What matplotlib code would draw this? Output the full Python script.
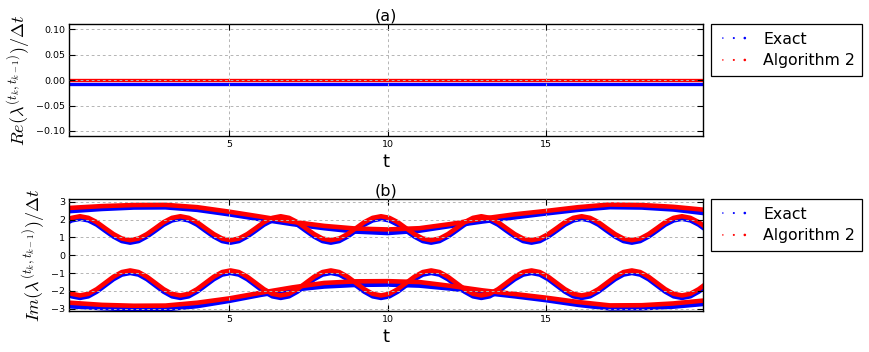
import numpy as np
import matplotlib
matplotlib.use('Agg')
import matplotlib.pyplot as plt
from matplotlib.legend_handler import HandlerPathCollection

# ---------------- data ----------------
# panel (a): real part (constant)
t_flat = [0.0, 20.0]
re_exact = [-0.0075, -0.0075]
re_alg = [0.0, 0.0]

# panel (b): slowly varying branches, sampled every 1 time unit
t_slow = list(range(21))
im_exact_slow_up = [2.48, 2.60, 2.68, 2.69, 2.55, 2.30, 2.02, 1.75, 1.52, 1.33, 1.25,
                    1.38, 1.65, 1.90, 2.13, 2.35, 2.55, 2.70, 2.68, 2.57, 2.36]
im_alg_slow_up = [2.66, 2.76, 2.82, 2.83, 2.70, 2.45, 2.17, 1.88, 1.65, 1.50, 1.45,
                  1.52, 1.76, 2.06, 2.30, 2.49, 2.70, 2.85, 2.82, 2.72, 2.55]
im_exact_slow_lo = [-2.86, -2.97, -3.03, -3.03, -2.85, -2.56, -2.22, -1.93, -1.75, -1.66, -1.64,
                    -1.70, -1.87, -2.10, -2.30, -2.52, -2.78, -2.98, -2.97, -2.88, -2.72]
im_alg_slow_lo = [-2.66, -2.78, -2.83, -2.82, -2.66, -2.42, -2.10, -1.80, -1.55, -1.46, -1.45,
                  -1.50, -1.72, -1.97, -2.17, -2.38, -2.62, -2.81, -2.80, -2.70, -2.53]

# panel (b): oscillating branches, sampled on a fine time grid
t_osc = np.linspace(-0.217, 20.06, 78)
im_exact_osc_up = [
    1.72, 1.96, 2.05, 1.96, 1.72, 1.38, 1.05, 0.80, 0.71, 0.80, 1.05, 1.38,
    1.72, 1.96, 2.05, 1.96, 1.72, 1.38, 1.05, 0.80, 0.71, 0.80, 1.05, 1.38,
    1.72, 1.96, 2.05, 1.96, 1.72, 1.38, 1.05, 0.80, 0.71, 0.80, 1.05, 1.38,
    1.72, 1.96, 2.05, 1.96, 1.72, 1.38, 1.05, 0.80, 0.71, 0.80, 1.05, 1.38,
    1.72, 1.96, 2.05, 1.96, 1.72, 1.38, 1.05, 0.80, 0.71, 0.80, 1.05, 1.38,
    1.72, 1.96, 2.05, 1.96, 1.72, 1.38, 1.05, 0.80, 0.71, 0.80, 1.05, 1.38,
    1.72, 1.96, 2.05, 1.96, 1.72, 1.38]
im_alg_osc_up = [
    1.86, 2.10, 2.19, 2.10, 1.86, 1.52, 1.19, 0.94, 0.85, 0.94, 1.19, 1.52,
    1.86, 2.10, 2.19, 2.10, 1.86, 1.52, 1.19, 0.94, 0.85, 0.94, 1.19, 1.52,
    1.86, 2.10, 2.19, 2.10, 1.86, 1.52, 1.19, 0.94, 0.85, 0.94, 1.19, 1.52,
    1.86, 2.10, 2.19, 2.10, 1.86, 1.52, 1.19, 0.94, 0.85, 0.94, 1.19, 1.52,
    1.86, 2.10, 2.19, 2.10, 1.86, 1.52, 1.19, 0.94, 0.85, 0.94, 1.19, 1.52,
    1.86, 2.10, 2.19, 2.10, 1.86, 1.52, 1.19, 0.94, 0.85, 0.94, 1.19, 1.52,
    1.86, 2.10, 2.19, 2.10, 1.86, 1.52]
im_exact_osc_lo = [
    -2.04, -2.30, -2.39, -2.30, -2.04, -1.69, -1.34, -1.08, -0.99, -1.08, -1.34, -1.69,
    -2.04, -2.30, -2.39, -2.30, -2.04, -1.69, -1.34, -1.08, -0.99, -1.08, -1.34, -1.69,
    -2.04, -2.30, -2.39, -2.30, -2.04, -1.69, -1.34, -1.08, -0.99, -1.08, -1.34, -1.69,
    -2.04, -2.30, -2.39, -2.30, -2.04, -1.69, -1.34, -1.08, -0.99, -1.08, -1.34, -1.69,
    -2.04, -2.30, -2.39, -2.30, -2.04, -1.69, -1.34, -1.08, -0.99, -1.08, -1.34, -1.69,
    -2.04, -2.30, -2.39, -2.30, -2.04, -1.69, -1.34, -1.08, -0.99, -1.08, -1.34, -1.69,
    -2.04, -2.30, -2.39, -2.30, -2.04, -1.69]
im_alg_osc_lo = [
    -1.90, -2.16, -2.25, -2.16, -1.90, -1.55, -1.20, -0.94, -0.85, -0.94, -1.20, -1.55,
    -1.90, -2.16, -2.25, -2.16, -1.90, -1.55, -1.20, -0.94, -0.85, -0.94, -1.20, -1.55,
    -1.90, -2.16, -2.25, -2.16, -1.90, -1.55, -1.20, -0.94, -0.85, -0.94, -1.20, -1.55,
    -1.90, -2.16, -2.25, -2.16, -1.90, -1.55, -1.20, -0.94, -0.85, -0.94, -1.20, -1.55,
    -1.90, -2.16, -2.25, -2.16, -1.90, -1.55, -1.20, -0.94, -0.85, -0.94, -1.20, -1.55,
    -1.90, -2.16, -2.25, -2.16, -1.90, -1.55, -1.20, -0.94, -0.85, -0.94, -1.20, -1.55,
    -1.90, -2.16, -2.25, -2.16, -1.90, -1.55]

xticks = [5, 10, 15]
yticks_a = [-0.10, -0.05, 0.00, 0.05, 0.10]
yticks_b = [-3, -2, -1, 0, 1, 2, 3]
labels = ['Exact', 'Algorithm 2']
titles = ['(a)', '(b)']

# ---------------- style ----------------
plt.rcParams['mathtext.fontset'] = 'cm'
plt.rcParams['lines.scale_dashes'] = False
BLUE = (0, 0, 1)
RED = (1, 0, 0)

fig = plt.figure(figsize=(8.69, 3.52), dpi=100)
ax_a = fig.add_axes([0.0797, 0.6136, 0.7292, 0.3173])
ax_b = fig.add_axes([0.0797, 0.1156, 0.7292, 0.3182])


def style_axes(ax, title):
    ax.set_xlim(-0.03, 19.93)
    ax.set_xticks(xticks)
    ax.grid(True, color='#b4b4b4', linestyle=(0, (2, 2)), linewidth=0.7)
    ax.set_axisbelow(False)
    ax.tick_params(direction='in', top=True, right=True, length=4,
                   width=0.8, labelsize=6.8, pad=3)
    for s in ax.spines.values():
        s.set_linewidth(1.0)
    ax.set_title(title, fontsize=11.5, pad=2.8)
    ax.set_xlabel('t', fontsize=13, labelpad=2.5)


def add_legend(ax):
    hb = ax.scatter([np.nan] * 3, [np.nan] * 3, s=[3, 5, 8], marker='o', color=BLUE, lw=0)
    hr = ax.scatter([np.nan] * 3, [np.nan] * 3, s=[3, 5, 8], marker='o', color=RED, lw=0)
    leg = ax.legend([hb, hr], labels, loc='upper left', bbox_to_anchor=(1.0126, 1.0),
                    borderaxespad=0, fontsize=11.3, scatterpoints=3,
                    scatteryoffsets=[0.5], fancybox=False, framealpha=1,
                    edgecolor='k', borderpad=0.46, labelspacing=0.44,
                    handlelength=2.0, handletextpad=0.87,
                    handler_map={hb: HandlerPathCollection(sizes=[1.2, 2.2, 3.5]),
                                 hr: HandlerPathCollection(sizes=[1.2, 2.2, 3.5])})
    leg.get_frame().set_linewidth(0.9)


# panel (a)
ax_a.plot(t_flat, re_exact, color=BLUE, lw=2.4)
ax_a.plot(t_flat, re_alg, color=RED, lw=2.4)
ax_a.set_ylim(-0.11, 0.11)
ax_a.set_yticks(yticks_a)
style_axes(ax_a, titles[0])
ax_a.set_ylabel(r'$Re(\lambda^{(t_k,t_{k-1})})/\Delta t$', fontsize=13, labelpad=3)
add_legend(ax_a)

# panel (b)
for ys in (im_exact_slow_up, im_exact_slow_lo):
    ax_b.plot(t_slow, ys, color=BLUE, lw=3.3)
for ys in (im_exact_osc_up, im_exact_osc_lo):
    ax_b.plot(t_osc, ys, color=BLUE, lw=3.3)
for ys in (im_alg_slow_up, im_alg_slow_lo):
    ax_b.plot(t_slow, ys, color=RED, lw=3.3)
for ys in (im_alg_osc_up, im_alg_osc_lo):
    ax_b.plot(t_osc, ys, color=RED, lw=3.3)
ax_b.set_ylim(-np.pi, np.pi)
ax_b.set_yticks(yticks_b)
style_axes(ax_b, titles[1])
ax_b.set_ylabel(r'$Im(\lambda^{(t_k,t_{k-1})})/\Delta t$', fontsize=13, labelpad=3)
add_legend(ax_b)

fig.savefig('out.png', dpi=100)
